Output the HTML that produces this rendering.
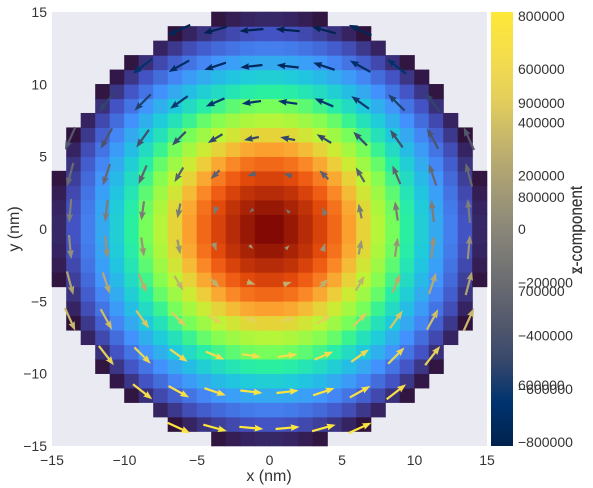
<!DOCTYPE html>
<html><head><meta charset="utf-8"><style>
html,body{margin:0;padding:0;background:#fff;}
svg{display:block;font-family:"Liberation Sans",sans-serif;}
</style></head><body>
<svg id="chart" width="593" height="488" viewBox="0 0 593 488" xmlns="http://www.w3.org/2000/svg">
<rect x="52" y="12" width="435" height="434" fill="#eaeaf2"/>
<g id="cells"></g>
<g id="arrows"></g>
<g id="axes"></g>
<g id="cbar"></g>
</svg>
<script>
// radial profile
const radii = [0,1,2,3,4,5,6,7,8,9,10,11,12,13,14,15];
const mzProfile = [997000,992000,979000,967000,951000,918000,872000,826000,784000,743000,699000,664000,632000,597000,565000,535000];
const mInPlaneProfile = [77400,126000,204000,255000,309000,397000,490000,564000,621000,669000,715000,748000,775000,802000,825000,845000];
const xTicks = [-15,-10,-5,0,5,10,15];
const yTicks = [-15,-10,-5,0,5,10,15];
const zTicks = [600000,700000,800000,900000];
const mxTicks = [-800000,-600000,-400000,-200000,0,200000,400000,600000,800000];
const zMin = 535000, zMax = 997000, mxMin = -815000, mxMax = 815000;

const NS = "http://www.w3.org/2000/svg";
const X0=52,X1=487,Y0=12,Y1=446;
const sx = v => X0 + (v+15)/30*(X1-X0);
const sy = v => Y1 - (v+15)/30*(Y1-Y0);
function mk(tag, attrs, parent){const e=document.createElementNS(NS,tag);for(const k in attrs)e.setAttribute(k,attrs[k]);parent.appendChild(e);return e;}
function interp(r, ys){ if(r>=radii[radii.length-1]) return ys[ys.length-1];
  const i=Math.floor(r); const f=r-i; return ys[i]*(1-f)+ys[i+1]*f; }
function hex(h){return [parseInt(h.slice(1,3),16),parseInt(h.slice(3,5),16),parseInt(h.slice(5,7),16)];}
function cmap(stops,t){t=Math.max(0,Math.min(1,t));const n=stops.length-1;const i=Math.min(n-1,Math.floor(t*n));const f=t*n-i;
  const a=hex(stops[i]),b=hex(stops[i+1]);return "rgb("+a.map((v,k)=>Math.round(v+(b[k]-v)*f)).join(",")+")";}
const turbo=["#30123b","#4454c4","#4490fe","#1fc8de","#29efa2","#7dff56","#c1f334","#f1ca3a","#fe922a","#ea4f0d","#7a0403"];
const cividis=["#00224e","#00336f","#39486b","#575c6d","#707173","#8a8779","#a69d75","#c4b56c","#e4cf5b","#f5dd4c","#fee838"];

// heatmap cells
const cells=document.getElementById("cells");
for(let i=-15;i<15;i++)for(let j=-15;j<15;j++){
  const cx=i+0.5, cy=j+0.5, r=Math.hypot(cx,cy);
  if(cx*cx+cy*cy>225) continue;
  const mz=interp(r,mzProfile);
  const e=mk("rect",{x:sx(i)-0.3,y:sy(j+1)-0.3,width:(X1-X0)/30+0.6,height:(Y1-Y0)/30+0.6,fill:cmap(turbo,(mz-zMin)/(zMax-zMin))},cells);
  
  
}
// arrows
const arrows=document.getElementById("arrows");
const pxPerM = 24/815000;
for(let a=0;a<12;a++)for(let b=0;b<12;b++){
  const gx=-13.75+2.5*a, gy=-13.75+2.5*b;
  const ccx=Math.floor(gx)+0.5, ccy=Math.floor(gy)+0.5;
  if(ccx*ccx+ccy*ccy>225) continue;
  const r=Math.hypot(gx,gy);
  const mp=interp(r,mInPlaneProfile);
  const mx=-gy/r*mp, my=gx/r*mp;
  const L=mp*pxPerM, ang=Math.atan2(-my,mx);
  const w=2.2, hl=9, hw=3.4;
  let pts;
  if(L>hl*1.1){ const s=L-hl*0.9;
    pts=[[-L/2,-w/2],[-L/2+s,-w/2],[-L/2+s-hl*0.1,-hw],[L/2,0],[-L/2+s-hl*0.1,hw],[-L/2+s,w/2],[-L/2,w/2]];
  } else { const k=L/(hl*1.1);
    pts=[[-L/2,-w/2*k],[L/2-hl*k,-w/2*k],[L/2-hl*k*1.1,-hw*k],[L/2,0],[L/2-hl*k*1.1,hw*k],[L/2-hl*k,w/2*k],[-L/2,w/2*k]]; }
  const c=Math.cos(ang), s2=Math.sin(ang), px=sx(gx), py=sy(gy);
  const p=pts.map(([u,v])=>(px+u*c-v*s2).toFixed(2)+","+(py+u*s2+v*c).toFixed(2)).join(" ");
  const e=mk("polygon",{points:p,fill:cmap(cividis,(mx-mxMin)/(mxMax-mxMin))},arrows);
  
  
}
// axes
const axes=document.getElementById("axes");
const tc="#333", fs=14;
xTicks.forEach(v=>{const t=mk("text",{x:sx(v),y:465,"font-size":fs,fill:tc,"text-anchor":"middle"},axes);t.textContent=(v<0?"\u2212":"")+Math.abs(v);
  });
yTicks.forEach(v=>{const t=mk("text",{x:47,y:sy(v)+5,"font-size":fs,fill:tc,"text-anchor":"end"},axes);t.textContent=(v<0?"\u2212":"")+Math.abs(v);
  });
let t=mk("text",{x:269,y:481,"font-size":16,fill:tc,"text-anchor":"middle"},axes);t.textContent="x (nm)";

t=mk("text",{x:19,y:229,"font-size":16,fill:tc,"text-anchor":"middle",transform:"rotate(-90 19 229)"},axes);t.textContent="y (nm)";

// colorbars
const cb=document.getElementById("cbar");
const defs=mk("defs",{},cb);
const gr=mk("linearGradient",{id:"civ",x1:0,y1:1,x2:0,y2:0},defs);
cividis.forEach((c,i)=>mk("stop",{offset:i/(cividis.length-1),"stop-color":c},gr));
let r=mk("rect",{x:491,y:12,width:22,height:434,fill:"url(#civ)"},cb);

const ymx=v=>Y1-(v-mxMin)/(mxMax-mxMin)*(Y1-Y0);
const yz=v=>Y1-(v-zMin)/(zMax-zMin)*(Y1-Y0);
zTicks.forEach(v=>{const e=mk("text",{x:518,y:yz(v)+5,"font-size":fs,fill:tc},cb);e.textContent=String(v);
  });
mxTicks.forEach(v=>{const e=mk("text",{x:518,y:ymx(v)+5,"font-size":fs,fill:tc},cb);e.textContent=(v<0?"\u2212":"")+Math.abs(v);
  });
t=mk("text",{x:582,y:230,"font-size":18,fill:tc,"text-anchor":"middle",transform:"rotate(-90 582 230) scale(0.85 1)"},cb);
t.setAttribute("transform","translate(582 230) rotate(-90) scale(0.85 1) translate(-582 -230)");
t.textContent="z-component";

t=mk("text",{x:582,y:230,"font-size":18,fill:tc,"text-anchor":"middle"},cb);
t.setAttribute("transform","translate(582 230) rotate(-90) scale(0.85 1) translate(-582 -230)");
t.textContent="x-component";

</script>
</body></html>
